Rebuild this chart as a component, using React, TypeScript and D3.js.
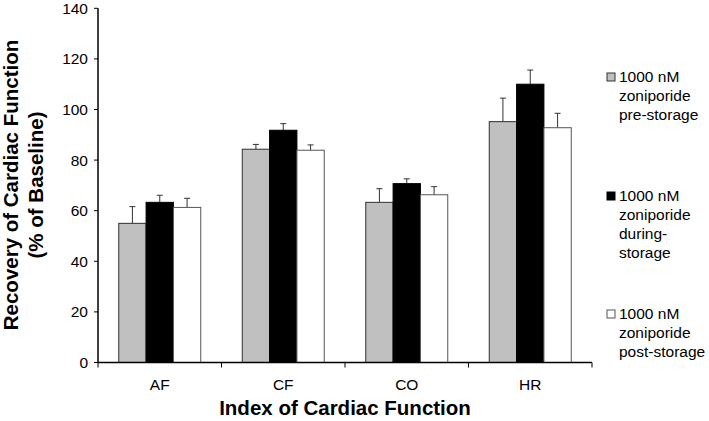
import React from "react";
import * as d3 from "d3";

const categories = ["AF", "CF", "CO", "HR"];
const seriesNames = [
  ["1000 nM", "zoniporide", "pre-storage"],
  ["1000 nM", "zoniporide", "during-", "storage"],
  ["1000 nM", "zoniporide", "post-storage"],
];
const preValues = [55.0, 84.3, 63.3, 95.2];
const preErrors = [6.6, 1.9, 5.4, 9.3];
const duringValues = [63.3, 91.8, 70.7, 110.0];
const duringErrors = [2.8, 2.6, 1.9, 5.6];
const postValues = [61.3, 83.9, 66.3, 92.8];
const postErrors = [3.6, 2.1, 3.2, 5.7];
const yTicks = [0, 20, 40, 60, 80, 100, 120, 140];

const fills = ["#c0c0c0", "#000000", "#ffffff"];
const strokes = ["#303030", "#000000", "#555555"];

export default function App() {
  const W = 709, H = 421;
  const left = 98, right = 592, top = 8.3, bottom = 362.5;
  const y = d3.scaleLinear().domain([0, 140]).range([bottom, top]);
  const x0 = d3.scaleBand().domain(categories).range([left, right]).paddingInner(0).paddingOuter(0);
  const groupW = 82;
  const x1 = d3.scaleBand().domain(["0", "1", "2"]).range([0, groupW]).padding(0);
  const series = [
    { v: preValues, e: preErrors },
    { v: duringValues, e: duringErrors },
    { v: postValues, e: postErrors },
  ];
  const font = "Liberation Sans, Arial, sans-serif";
  const legendTops = [77, 196, 314];
  return (
    <svg width={W} height={H} style={{ position: "absolute", left: 0, top: 0, background: "#fff" }} fontFamily={font}>
      <rect x={0} y={0} width={W} height={H} fill="#fff" />
      {categories.map((c, ci) => {
        const gx = (x0(c) as number) + (x0.bandwidth() - groupW) / 2;
        return (
          <g key={c}>
            {series.map((s, si) => {
              const bx = gx + (x1(String(si)) as number);
              const bw = x1.bandwidth();
              const cx = bx + bw / 2;
              return (
                <g key={si}>
                  <line x1={cx} x2={cx} y1={y(s.v[ci])} y2={y(s.v[ci] + s.e[ci])} stroke="#333" strokeWidth={1} />
                  <line x1={cx - 3} x2={cx + 3} y1={y(s.v[ci] + s.e[ci])} y2={y(s.v[ci] + s.e[ci])} stroke="#333" strokeWidth={1} />
                  <rect x={bx} y={y(s.v[ci])} width={bw} height={bottom - y(s.v[ci])} fill={fills[si]} stroke={strokes[si]} strokeWidth={1} />
                </g>
              );
            })}
          </g>
        );
      })}
      {/* y axis */}
      <line x1={left} x2={left} y1={top} y2={bottom} stroke="#000" strokeWidth={1.5} />
      {yTicks.map((t) => (
        <g key={t}>
          <line x1={left - 4} x2={left} y1={y(t)} y2={y(t)} stroke="#000" strokeWidth={1} />
          <text x={left - 10} y={y(t)} dy="0.35em" textAnchor="end" fontSize={15.5}>{t}</text>
        </g>
      ))}
      {/* x axis */}
      <line x1={left} x2={right} y1={bottom} y2={bottom} stroke="#000" strokeWidth={1.5} />
      {[...categories.map((c) => x0(c) as number), right].map((tx, i) => (
        <line key={i} x1={tx} x2={tx} y1={bottom} y2={bottom + 5} stroke="#000" strokeWidth={1} />
      ))}
      {categories.map((c) => (
        <text key={c} x={(x0(c) as number) + x0.bandwidth() / 2} y={390} textAnchor="middle" fontSize={15.5}>{c}</text>
      ))}
      <text x={(left + right) / 2} y={415} textAnchor="middle" fontSize={20.5} fontWeight="bold">Index of Cardiac Function</text>
      <text transform={`translate(18,185) rotate(-90)`} textAnchor="middle" fontSize={20.5} fontWeight="bold">Recovery of Cardiac Function</text>
      <text transform={`translate(43,185) rotate(-90)`} textAnchor="middle" fontSize={20.5} fontWeight="bold">(% of Baseline)</text>
      {/* legend */}
      {seriesNames.map((lines, si) => (
        <g key={si}>
          <rect x={607} y={legendTops[si] - 4} width={8} height={8} fill={fills[si]} stroke={strokes[si]} strokeWidth={1} />
          {lines.map((ln, li) => (
            <text key={li} x={619} y={legendTops[si] + li * 18.7} dy="0.35em" fontSize={15.5}>{ln}</text>
          ))}
        </g>
      ))}
    </svg>
  );
}
